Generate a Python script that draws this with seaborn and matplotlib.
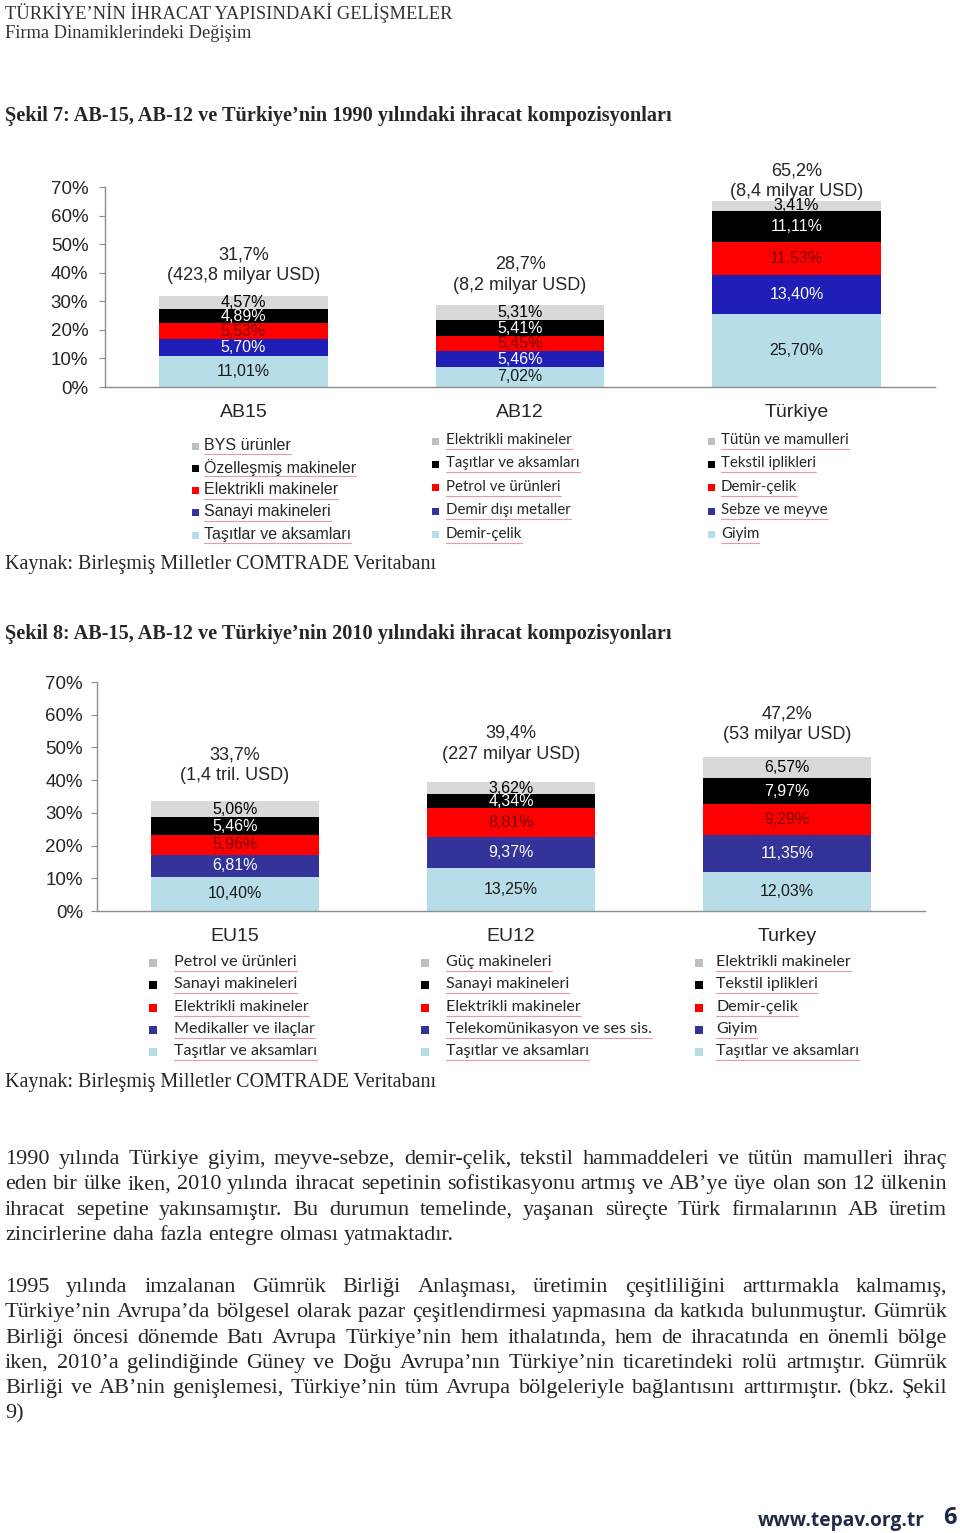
import matplotlib
matplotlib.use("Agg")
import matplotlib.pyplot as plt
import seaborn as sns
import pandas as pd
from matplotlib import font_manager
from matplotlib.patches import Rectangle

# ---------------- veriler ----------------
# Şekil 7 (1990) - dilimler alttan üste
grup_1990 = ["AB15", "AB12", "Türkiye"]
toplam_1990 = ["31,7%", "28,7%", "65,2%"]
hacim_1990 = ["(423,8 milyar USD)", "(8,2 milyar USD)", "(8,4 milyar USD)"]
ab15_1990 = [11.01, 5.70, 5.53, 4.89, 4.57]
ab12_1990 = [7.02, 5.46, 5.45, 5.41, 5.31]
tr_1990 = [25.70, 13.40, 11.53, 11.11, 3.41]
# lejantlar (üstten alta)
lej_ab15_1990 = ["BYS ürünler", "Özelleşmiş makineler", "Elektrikli makineler",
                 "Sanayi makineleri", "Taşıtlar ve aksamları"]
lej_ab12_1990 = ["Elektrikli makineler", "Taşıtlar ve aksamları", "Petrol ve ürünleri",
                 "Demir dışı metaller", "Demir-çelik"]
lej_tr_1990 = ["Tütün ve mamulleri", "Tekstil iplikleri", "Demir-çelik",
               "Sebze ve meyve", "Giyim"]

# Şekil 8 (2010)
grup_2010 = ["EU15", "EU12", "Turkey"]
toplam_2010 = ["33,7%", "39,4%", "47,2%"]
hacim_2010 = ["(1,4 tril. USD)", "(227 milyar USD)", "(53 milyar USD)"]
eu15_2010 = [10.40, 6.81, 5.96, 5.46, 5.06]
eu12_2010 = [13.25, 9.37, 8.81, 4.34, 3.62]
tr_2010 = [12.03, 11.35, 9.29, 7.97, 6.57]
lej_eu15_2010 = ["Petrol ve ürünleri", "Sanayi makineleri", "Elektrikli makineler",
                 "Medikaller ve ilaçlar", "Taşıtlar ve aksamları"]
lej_eu12_2010 = ["Güç makineleri", "Sanayi makineleri", "Elektrikli makineler",
                 "Telekomünikasyon ve ses sis.", "Taşıtlar ve aksamları"]
lej_tr_2010 = ["Elektrikli makineler", "Tekstil iplikleri", "Demir-çelik",
               "Giyim", "Taşıtlar ve aksamları"]

paragraf_1 = [
    "1990 yılında Türkiye giyim, meyve-sebze, demir-çelik, tekstil hammaddeleri ve tütün mamulleri ihraç",
    "eden bir ülke iken, 2010 yılında ihracat sepetinin sofistikasyonu artmış ve AB’ye üye olan son 12 ülkenin",
    "ihracat sepetine yakınsamıştır. Bu durumun temelinde, yaşanan süreçte Türk firmalarının AB üretim",
    "zincirlerine daha fazla entegre olması yatmaktadır.",
]
paragraf_2 = [
    "1995 yılında imzalanan Gümrük Birliği Anlaşması, üretimin çeşitliliğini arttırmakla kalmamış,",
    "Türkiye’nin Avrupa’da bölgesel olarak pazar çeşitlendirmesi yapmasına da katkıda bulunmuştur. Gümrük",
    "Birliği öncesi dönemde Batı Avrupa Türkiye’nin hem ithalatında, hem de ihracatında en önemli bölge",
    "iken, 2010’a gelindiğinde Güney ve Doğu Avrupa’nın Türkiye’nin ticaretindeki rolü artmıştır. Gümrük",
    "Birliği ve AB’nin genişlemesi, Türkiye’nin tüm Avrupa bölgeleriyle bağlantısını arttırmıştır. (bkz. Şekil",
    "9)",
]

# ---------------- stil ----------------
sns.set_style("white")
SERIF = "Liberation Serif"
SANS = "Liberation Sans"
adlar = {f.name for f in font_manager.fontManager.ttflist}
NARROW = "Liberation Sans Narrow" if "Liberation Sans Narrow" in adlar else "Lato"
plt.rcParams["font.family"] = [SANS, "DejaVu Sans"]

GRI = "#8C8C8C"
renk_metin = ["#1a1a1a", "white", "#7a0000", "white", "black"]

fig = plt.figure(figsize=(9.6, 15.33), dpi=100)
W, H = 960, 1533

# sayfa katmanı (piksel koordinatları)
ov = fig.add_axes([0, 0, 1, 1])
ov.set_xlim(0, W)
ov.set_ylim(H, 0)
ov.axis("off")
rend = fig.canvas.get_renderer()


def ax_ekle(x0, x1, ust, alt):
    return fig.add_axes([x0 / W, 1 - alt / H, (x1 - x0) / W, (alt - ust) / H])


def yigin(ax, gruplar, paylar, mavi, toplamlar, hacimler, ofset, ypad):
    renkler = ["#B7DDE8", mavi, "#FF0000", "#000000", "#D9D9D9"]
    df = pd.DataFrame(paylar, index=gruplar)
    kum = df.cumsum(axis=1)
    for k in range(4, -1, -1):
        sns.barplot(x=gruplar, y=kum[k].values, order=gruplar, color=renkler[k],
                    saturation=1, width=0.61, errorbar=None, linewidth=0, ax=ax)
    for i, g in enumerate(gruplar):
        for k in range(5):
            v = df.iloc[i, k]
            ax.text(i, kum.iloc[i, k] - v / 2, f"{v:.2f}".replace(".", ",") + "%",
                    ha="center", va="center", fontsize=11.5, color=renk_metin[k])
        tepe = kum.iloc[i, 4]
        ax.text(i, tepe + ofset[i][0], toplamlar[i], ha="center", va="center", fontsize=13)
        ax.text(i, tepe + ofset[i][1], hacimler[i], ha="center", va="center", fontsize=13)
    ax.set_xlim(-0.5, 2.5)
    ax.set_ylim(0, 70)
    ax.set_yticks(range(0, 71, 10))
    ax.yaxis.set_major_formatter(lambda v, p: f"{v:.0f}%")
    ax.set_xticks([-0.5, 0.5, 1.5, 2.5], minor=True)
    ax.tick_params(axis="x", which="major", length=0, pad=12, labelsize=14)
    ax.tick_params(axis="x", which="minor", length=5, color=GRI, direction="out")
    ax.tick_params(axis="y", length=4, color=GRI, direction="out", pad=ypad, labelsize=13.5, left=True)
    ax.set_xlabel("")
    ax.set_ylabel("")
    sns.despine(ax=ax)
    for s in ["left", "bottom"]:
        ax.spines[s].set_color(GRI)
        ax.spines[s].set_linewidth(1)


def lejant(x_kare, x_metin, y0, dy, etiketler, aile, boyut, kare=7):
    renkler = ["#BFBFBF", "#000000", "#FF0000", "#333399", "#B7DDE8"]
    for j, et in enumerate(etiketler):
        y = y0 + j * dy
        ov.add_patch(Rectangle((x_kare - kare / 2, y - kare / 2 + 1), kare, kare,
                               color=renkler[j], lw=0))
        t = ov.text(x_metin, y, et, family=aile, fontsize=boyut, va="center", ha="left")
        bb = t.get_window_extent(rend)
        ov.plot([bb.x0, bb.x1], [y + 9, y + 9], color="#E79AA5", lw=0.8)


def sigdir(metin, aile, hedef):
    t = ov.text(0, 0, metin, family=aile, fontsize=10)
    w = t.get_window_extent(rend).width
    t.remove()
    return 10 * hedef / w


def yasla(satirlar, y0, dy, boyut, x0=5, x1=947):
    for j, s in enumerate(satirlar):
        kel = s.split(" ")
        y = y0 + j * dy
        ts = [ov.text(0, y, k, family=SERIF, fontsize=boyut, va="baseline") for k in kel]
        ws = [t.get_window_extent(rend).width for t in ts]
        if j == len(satirlar) - 1 or len(kel) == 1:
            bosluk = 0.25 * boyut * 100 / 72
        else:
            bosluk = (x1 - x0 - sum(ws)) / (len(kel) - 1)
        x = x0
        for t, w in zip(ts, ws):
            t.set_x(x)
            x += w + bosluk


# ---------------- sayfa metinleri ----------------
ov.text(5, 13, "TÜRKİYE’NİN İHRACAT YAPISINDAKİ GELİŞMELER", family=SERIF,
        fontsize=13.3, color="#333333", va="center")
ov.text(5, 34, "Firma Dinamiklerindeki Değişim", family=SERIF, fontsize=13.2,
        color="#333333", va="center")
ov.text(5, 116, "Şekil 7: AB-15, AB-12 ve Türkiye’nin 1990 yılındaki ihracat kompozisyonları",
        family=SERIF, fontsize=14.6, weight="bold", va="center")
ov.text(5, 634, "Şekil 8: AB-15, AB-12 ve Türkiye’nin 2010 yılındaki ihracat kompozisyonları",
        family=SERIF, fontsize=14.6, weight="bold", va="center")
ov.text(5, 565, "Kaynak: Birleşmiş Milletler COMTRADE Veritabanı", family=SERIF,
        fontsize=14.5, va="center")
ov.text(5, 1083, "Kaynak: Birleşmiş Milletler COMTRADE Veritabanı", family=SERIF,
        fontsize=14.5, va="center")

# ---------------- grafik 1 ----------------
ax1 = ax_ekle(105, 935, 187, 387)
yigin(ax1, grup_1990, [ab15_1990, ab12_1990, tr_1990], "#1F1FB8", toplam_1990, hacim_1990,
      [(14.5, 7.2), (14.4, 7.0), (10.4, 3.4)], 8)

boy1 = sigdir("Elektrikli makineler", NARROW, 125)
lejant(195, 204, 445, 22.3, lej_ab15_1990, SANS, 11.5)
lejant(435, 446, 440, 23.4, lej_ab12_1990, NARROW, boy1)
lejant(711, 721, 440, 23.4, lej_tr_1990, NARROW, boy1)

# ---------------- grafik 2 ----------------
ax2 = ax_ekle(97, 925, 682, 911)
yigin(ax2, grup_2010, [eu15_2010, eu12_2010, tr_2010], "#333399", toplam_2010, hacim_2010,
      [(14.0, 7.6), (15.0, 8.6), (13.0, 6.6)], 6)

boy2 = sigdir("Elektrikli makineler", NARROW, 135)
lejant(153, 174, 962, 22.3, lej_eu15_2010, NARROW, boy2, 8)
lejant(425, 446, 962, 22.3, lej_eu12_2010, NARROW, boy2, 8)
lejant(699, 716, 962, 22.3, lej_tr_2010, NARROW, boy2, 8)

# ---------------- paragraflar ----------------
yasla(paragraf_1, 1164, 25.3, 16)
yasla(paragraf_2, 1292, 25.3, 16)

ov.text(758, 1521, "www.tepav.org.tr", family=["Open Sans", "DejaVu Sans"], weight="bold",
        fontsize=13.8, color="#1F2B45", va="center")
ov.text(950, 1518, "6", family=["Open Sans", "DejaVu Sans"], weight="bold",
        fontsize=17, color="#1F2B45", va="center", ha="center")

fig.savefig("out.png", dpi=100)
